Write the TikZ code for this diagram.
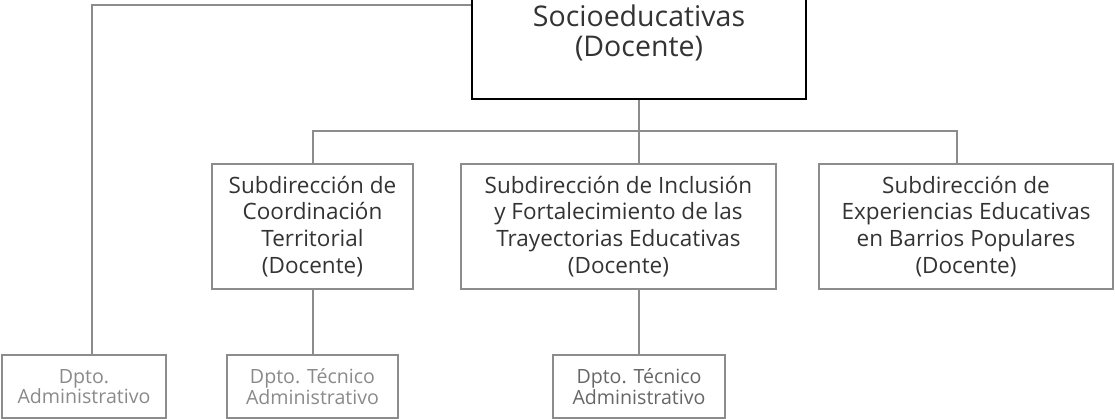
\documentclass[tikz,border=0pt]{standalone}
\usepackage{fontspec}
\setmainfont{Open Sans}
\usepackage{tikz}
\usetikzlibrary{positioning}
\definecolor{linegray}{HTML}{8C8C8C}
\definecolor{textdark}{HTML}{333333}
\definecolor{textlight}{HTML}{8A8A8A}
\definecolor{textmid}{HTML}{666666}

\begin{document}
\begin{tikzpicture}[x=1pt,y=-1pt]
  \tikzset{topbox/.style = {draw=black,line width=2.4pt,minimum width=334,minimum height=132,inner sep=0pt,align=center,text=textdark,font=\fontsize{28.5}{30}\selectfont}}
  \tikzset{subbox/.style = {draw=linegray,line width=2pt,minimum height=125,inner sep=0pt,align=center,text=textdark,font=\fontsize{22.5}{26.7}\selectfont}}
  \tikzset{dptobox/.style = {draw=linegray,line width=2pt,minimum height=63,inner sep=0pt,align=center,text=textlight,font=\fontsize{19.6}{20.7}\selectfont}}
  \tikzset{link/.style = {draw=linegray,line width=2pt}}

  \useasboundingbox (0,0) rectangle (1115,419);
  \clip (0,0) rectangle (1115,419);

	\node[topbox] (top) at (639,33) {Socioeducativas\\(Docente)};

	\node[subbox,minimum width=201] (sub1) at (312.5,226.5) {Subdirección de\\Coordinación\\Territorial\\(Docente)};
	\node[subbox,minimum width=315] (sub2) at (618.5,226.5) {Subdirección de Inclusión\\y Fortalecimiento de las\\Trayectorias Educativas\\(Docente)};
	\node[subbox,minimum width=294] (sub3) at (966,226.5) {Subdirección de\\Experiencias Educativas\\en Barrios Populares\\(Docente)};

	\node[dptobox,minimum width=164] (dadm) at (84,386.5) {Dpto.\\Administrativo};
	\node[dptobox,minimum width=171] (dtec1) at (312.5,386.5) {Dpto. Técnico\\Administrativo};
	\node[dptobox,minimum width=172,text=textmid] (dtec2) at (639,386.5) {Dpto. Técnico\\Administrativo};

	\coordinate (corner) at (92,5);
	\coordinate (busR) at (957,131);

    \draw[link] (top.west |- corner) -- (corner) -- (corner |- dadm.north);
    \draw[link] (top.south) -- (top.south |- sub2.north);
    \draw[link] (sub1.north) |- (busR) -- (busR |- sub3.north);

    \foreach \from/\to in {sub1/dtec1}
    \draw[link] (\from.south) -- (\to.north);
    \draw[link] (dtec2.north |- sub2.south) -- (dtec2.north);

\end{tikzpicture}
\end{document}
